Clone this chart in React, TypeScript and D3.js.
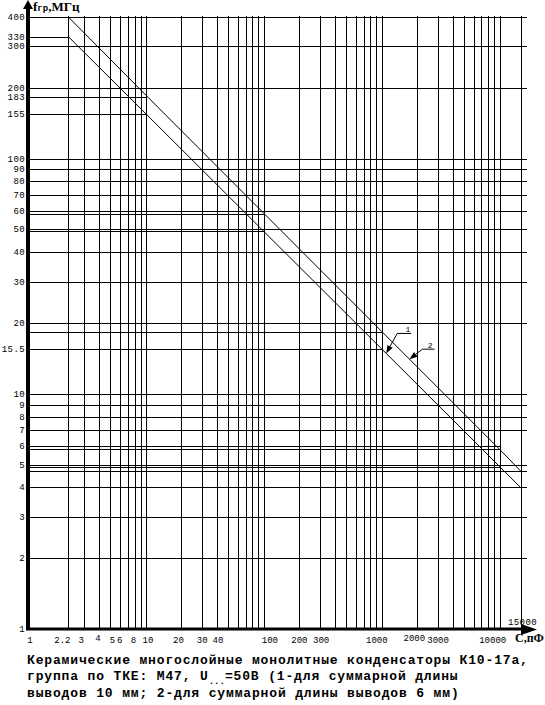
import React from "react";
import * as d3 from "d3";

// ---- data ----
const capPoints = [2.2, 10, 100, 1000, 10000, 15000];
const fLine1 = [330, 155, 49, 15.5, 4.9, 4.0];
const fLine2 = [400, 186, 58.5, 18.4, 5.8, 4.7];

const xGridValues = [
  2.2, 3, 4, 5, 6, 7, 8, 9, 10,
  20, 30, 40, 50, 60, 70, 80, 90, 100,
  200, 300, 400, 500, 600, 700, 800, 900, 1000,
  2000, 3000, 4000, 5000, 6000, 7000, 8000, 9000, 10000, 15000,
];
const yGridFull = [400, 300, 200, 100, 90, 80, 70, 60, 50, 40, 30, 20, 10, 9, 8, 7, 5, 4.7, 4, 3, 2];
const yGridPartialValues = [330, 183, 155, 58, 49, 18.3, 15.5, 6, 5.8, 4.9];
const yGridPartialEnds = [2.2, 10, 10, 100, 100, 1000, 1000, 10000, 10000, 10000];

const yTickValues = [400, 330, 300, 200, 183, 155, 100, 90, 80, 70, 60, 50, 40, 30, 20, 15.5, 10, 9, 8, 7, 6, 5, 4, 3, 2, 1];
const yTickLabels = ["400", "330", "300", "200", "183", "155", "100", "90", "80", "70", "60", "50", "40", "30", "20", "15.5", "10", "9", "8", "7", "6", "5", "4", "3", "2", "1"];

const xTickValues = [1, 2.2, 3, 4, 5, 6, 8, 10, 20, 30, 40, 100, 200, 300, 1000, 2000, 3000, 10000];
const xTickLabels = ["1", "2.2", "3", "4", "5", "6", "8", "10", "20", "30", "40", "100", "200", "300", "1000", "2000", "3000", "10000"];

const captionLines = [
  "Керамические многослойные монолитные конденсаторы К10-17а,",
  "группа по ТКЕ: М47, U",
  "выводов 10 мм; 2-для суммарной длины выводов 6 мм)",
];

const W = 545;
const H = 705;

const x = d3.scaleLog().domain([1, 15000]).range([28, 520.5]);
const y = d3.scaleLog().domain([1, 400]).range([629, 17]);

function interpLog(c: number, xs: number[], ys: number[]) {
  const lc = Math.log10(c);
  for (let i = 0; i < xs.length - 1; i++) {
    const a = Math.log10(xs[i]);
    const b = Math.log10(xs[i + 1]);
    if (lc >= a && lc <= b) {
      const t = (lc - a) / (b - a);
      return Math.pow(10, Math.log10(ys[i]) + t * (Math.log10(ys[i + 1]) - Math.log10(ys[i])));
    }
  }
  return ys[ys.length - 1];
}

// per-label horizontal nudges (layout only)
const xLabelDx: Record<string, number> = {
  "1": 2, "2.2": -6, "3": -3, "4": -1, "5": 2, "6": 0, "8": -1, "10": 2,
  "20": -3, "30": 0, "40": 1, "100": 6, "200": 0, "300": 1,
  "1000": -5, "2000": -3, "3000": 0, "10000": -7,
};
const xLabelDy: Record<string, number> = { "4": -2, "2000": -2 };

function Arrow({ x1, y1, x2, y2 }: { x1: number; y1: number; x2: number; y2: number }) {
  const dx = x2 - x1;
  const dy = y2 - y1;
  const len = Math.hypot(dx, dy);
  const ux = dx / len;
  const uy = dy / len;
  const hl = 8;
  const hw = 3;
  const bx = x2 - ux * hl;
  const by = y2 - uy * hl;
  const p1 = [bx - uy * hw, by + ux * hw];
  const p2 = [bx + uy * hw, by - ux * hw];
  return (
    <g>
      <line x1={x1} y1={y1} x2={bx} y2={by} stroke="#000" strokeWidth={1} />
      <path d={`M${x2},${y2}L${p1[0]},${p1[1]}L${p2[0]},${p2[1]}Z`} fill="#000" />
    </g>
  );
}

export default function App() {
  const line = d3
    .line<number>()
    .x((_, i) => x(capPoints[i]))
    .y((d) => y(d));

  const xLeft = x(1);
  const xRight = 527;
  const gridTop = 16;
  const axisY = 629;

  const tip1C = 1090;
  const tip1 = [x(tip1C), y(interpLog(tip1C, capPoints, fLine1))];
  const tip2C = 1716;
  const tip2 = [x(tip2C), y(interpLog(tip2C, capPoints, fLine2))];

  const tickFont = { fontFamily: "'Liberation Mono', monospace", fontSize: 9, letterSpacing: 0.4 } as const;
  const xTickFont = { fontFamily: "'Liberation Mono', monospace", fontSize: 9, letterSpacing: 0 } as const;
  const capFont = { fontFamily: "'Liberation Mono', monospace", fontSize: 13, fontWeight: 700, letterSpacing: 0.85 } as const;

  return (
    <svg width={W} height={H} style={{ position: "absolute", left: 0, top: 0, background: "#fff" }}>
      <rect x={0} y={0} width={W} height={H} fill="#fff" />
      <g shapeRendering="crispEdges">
        {xGridValues.map((v) => (
          <line key={"v" + v} x1={Math.round(x(v)) + 0.5} x2={Math.round(x(v)) + 0.5} y1={gridTop} y2={axisY} stroke="#000" strokeWidth={1} />
        ))}
        {yGridFull.map((v) => (
          <line key={"h" + v} x1={xLeft} x2={xRight} y1={Math.round(y(v)) + 0.5} y2={Math.round(y(v)) + 0.5} stroke="#000" strokeWidth={1} />
        ))}
        {yGridPartialValues.map((v, i) => (
          <line key={"hp" + v} x1={xLeft} x2={x(yGridPartialEnds[i])} y1={Math.round(y(v)) + 0.5} y2={Math.round(y(v)) + 0.5} stroke="#000" strokeWidth={1} />
        ))}
      </g>

      <path d={line(fLine1) || ""} fill="none" stroke="#000" strokeWidth={1} />
      <path d={line(fLine2) || ""} fill="none" stroke="#000" strokeWidth={1} />

      <line x1={28} x2={28} y1={axisY + 1} y2={8} stroke="#000" strokeWidth={4} />
      <path d="M28,0L23,9L33,9Z" fill="#000" />
      <line x1={26} x2={524} y1={axisY} y2={axisY} stroke="#000" strokeWidth={3} />
      <path d="M537,629.5L521,624L521,635Z" fill="#000" />

      {yTickValues.map((v, i) => (
        <text key={"yl" + i} x={25} y={y(v) + 1} textAnchor="end" dominantBaseline="central" {...tickFont}>
          {yTickLabels[i]}
        </text>
      ))}

      {xTickValues.map((v, i) => {
        const lab = xTickLabels[i];
        return (
          <text key={"xl" + i} x={x(v) + (xLabelDx[lab] || 0)} y={643 + (xLabelDy[lab] || 0)} textAnchor="middle" {...xTickFont}>
            {lab}
          </text>
        );
      })}
      <text x={x(15000) + 2} y={625} textAnchor="middle" {...tickFont}>15000</text>

      <text x={33} y={11} fontFamily="'Liberation Serif', serif" fontWeight={700} fontSize={13}>
        f<tspan fontSize={9} fontFamily="'Liberation Mono', monospace">гр</tspan>,МГц
      </text>
      <text x={515} y={642} fontFamily="'Liberation Serif', serif" fontWeight={700} fontSize={12}>С,пФ</text>

      <Arrow x1={tip1[0] + 11} y1={tip1[1] - 20} x2={tip1[0]} y2={tip1[1]} />
      <line x1={tip1[0] + 11} x2={tip1[0] + 25} y1={tip1[1] - 20} y2={tip1[1] - 20} stroke="#000" strokeWidth={1} />
      <text x={tip1[0] + 22} y={tip1[1] - 21} textAnchor="middle" {...tickFont} fontSize={8}>1</text>
      <Arrow x1={tip2[0] + 13} y1={tip2[1] - 10} x2={tip2[0]} y2={tip2[1]} />
      <line x1={tip2[0] + 13} x2={tip2[0] + 25} y1={tip2[1] - 10} y2={tip2[1] - 10} stroke="#000" strokeWidth={1} />
      <text x={tip2[0] + 21} y={tip2[1] - 11} textAnchor="middle" {...tickFont} fontSize={8}>2</text>

      <text x={27} y={663.5} {...capFont}>{captionLines[0]}</text>
      <text x={27} y={680} {...capFont}>
        {captionLines[1]}
        <tspan fontSize={9} dy={4} letterSpacing={0}>...</tspan>
        <tspan dy={-4}>=50В (1-для суммарной длины</tspan>
      </text>
      <text x={27} y={696.5} {...capFont}>{captionLines[2]}</text>
    </svg>
  );
}
